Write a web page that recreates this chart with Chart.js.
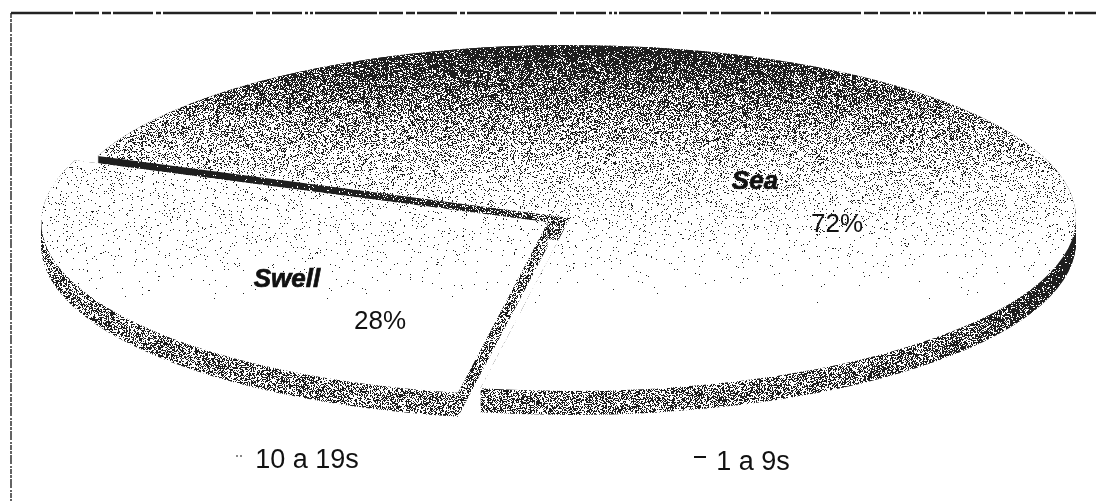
<!DOCTYPE html>
<html>
<head>
<meta charset="utf-8">
<style>html,body{margin:0;padding:0;background:#fff}#wrap{width:1096px;height:501px;position:relative}</style>
<script src="https://cdn.jsdelivr.net/npm/chart.js@4"></script>
</head>
<body>
<div id="wrap"><canvas id="c" width="1096" height="501"></canvas></div>
<script>
const categories = ['1 a 9s', '10 a 19s'];
const sliceNames = ['Sea', 'Swell'];
const percentLabels = ['72%', '28%'];
const values = [72, 28];

const W = 1096, H = 501, CX = 570, CY = 218, SY = 0.342, DEPTH = 24;
function hash(x, y, s) {
  let n = (Math.imul(x, 374761393) + Math.imul(y, 668265263) + Math.imul(s, 2147483647)) | 0;
  n = Math.imul(n ^ (n >>> 13), 1274126177);
  return ((n ^ (n >>> 16)) >>> 0) / 4294967296;
}
function lerp(stops, v) {
  if (v <= stops[0][0]) return stops[0][1];
  for (let i = 1; i < stops.length; i++) {
    if (v <= stops[i][0]) {
      const a = stops[i - 1], b = stops[i];
      return a[1] + (b[1] - a[1]) * (v - a[0]) / (b[0] - a[0]);
    }
  }
  return stops[stops.length - 1][1];
}
function stipple(fn, seed) {
  const cv = document.createElement('canvas'); cv.width = W; cv.height = H;
  const g = cv.getContext('2d'), im = g.createImageData(W, H), d = im.data;
  for (let y = 0; y < H; y++) for (let x = 0; x < W; x++) {
    const on = hash(x, y, seed) < fn(x, y), i = (y * W + x) * 4;
    const v = on ? 30 : 255;
    d[i] = d[i + 1] = d[i + 2] = v; d[i + 3] = 255;
  }
  g.putImageData(im, 0, 0);
  return cv;
}
const seaStops = [[45, .9], [80, .7], [120, .42], [150, .26], [180, .13], [210, .07], [240, .025], [270, .008], [295, .002], [305, 0]];
const swellStops = [[160, .07], [200, .045], [240, .03], [270, .012], [295, .003], [305, 0]];
const seaTop = stipple((x, y) => lerp(seaStops, y), 1);
const swellTop = stipple((x, y) => lerp(swellStops, y), 2);
const seaWall = stipple((x, y) => {
  if (y < 232 && x < 575) return lerp([[100, .99], [330, .94], [470, .82], [570, .5]], x);
  return lerp([[480, .5], [800, .5], [960, .58], [1040, .78], [1070, .95]], x);
}, 3);
const swellWall = stipple((x, y) => .5, 4);

const off = document.createElement('canvas'); off.width = W; off.height = H;
const oc = off.getContext('2d');

function drawLayer(ctx, arc, img, depth) {
  oc.setTransform(1, 0, 0, 1, 0, 0);
  oc.globalCompositeOperation = 'source-over';
  oc.clearRect(0, 0, W, H);
  for (let d = depth; d >= 0; d--) {
    oc.setTransform(1, 0, 0, SY, CX - arc.x, CY + d - arc.y * SY);
    arc.draw(oc);
  }
  oc.setTransform(1, 0, 0, 1, 0, 0);
  oc.globalCompositeOperation = 'source-in';
  oc.drawImage(img, 0, 0);
  ctx.drawImage(off, 0, 0);
}

const piePainter = {
  id: 'piePainter',
  beforeDatasetDraw(chart, args) {
    const ctx = chart.ctx, arcs = args.meta.data;
    drawLayer(ctx, arcs[0], seaWall, DEPTH);
    drawLayer(ctx, arcs[0], seaTop, 0);
    drawLayer(ctx, arcs[1], swellWall, DEPTH);
    drawLayer(ctx, arcs[1], swellTop, 0);
    return false;
  },
  afterDraw(chart) {
    const c = chart.ctx;
    c.save();
    c.textAlign = 'center'; c.textBaseline = 'middle'; c.fillStyle = '#111'; c.strokeStyle = '#111';
    c.font = 'italic bold 26px "Liberation Sans"';
    c.lineWidth = 0.7;
    c.fillText(sliceNames[0], 755, 182); c.strokeText(sliceNames[0], 755, 182);
    c.fillText(sliceNames[1], 287, 280); c.strokeText(sliceNames[1], 287, 280);
    c.font = '26px "Liberation Sans"';
    c.fillText(percentLabels[0], 837, 225);
    c.fillText(percentLabels[1], 380, 322);
    c.font = '27px "Liberation Sans"';
    c.fillText(categories[1], 307, 461);
    c.fillText(categories[0], 753, 463);
    c.fillRect(694, 456, 12, 2);
    c.fillStyle = '#888';
    c.fillRect(236, 455, 2, 2); c.fillRect(240, 455, 2, 2);
    // frame
    c.strokeStyle = '#222';
    c.lineWidth = 2.4;
    c.setLineDash([62, 2, 24, 3, 9, 2, 40, 3, 5, 2, 90, 3, 14, 2, 30, 3, 3, 2, 3, 2]);
    c.beginPath(); c.moveTo(11, 13); c.lineTo(W, 13); c.stroke();
    c.lineWidth = 1.4;
    c.setLineDash([5, 1, 3, 1, 9, 2, 2, 1]);
    c.beginPath(); c.moveTo(11, 13); c.lineTo(11, H); c.stroke();
    c.restore();
  }
};

new Chart(document.getElementById('c'), {
  type: 'pie',
  data: {
    labels: categories,
    datasets: [{
      data: values,
      backgroundColor: ['#999999', '#cccccc'],
      borderWidth: 0,
      offset: [0, 102],
      radius: 506
    }]
  },
  options: {
    responsive: false,
    animation: false,
    rotation: 291,
    layout: { padding: 0 },
    plugins: { legend: { display: false }, tooltip: { enabled: false } }
  },
  plugins: [piePainter]
});
</script>
</body>
</html>
